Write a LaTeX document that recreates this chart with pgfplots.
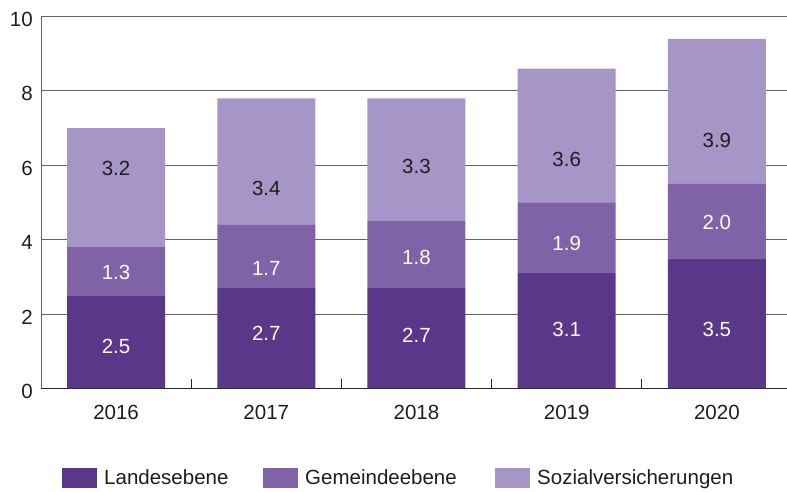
\documentclass[border=0pt]{standalone}
\usepackage{pgfplots}
\pgfplotsset{compat=1.18}
\usepackage{fontspec}
\setmainfont{Liberation Sans}
\definecolor{cA}{RGB}{91,55,138}
\definecolor{cB}{RGB}{128,98,166}
\definecolor{cC}{RGB}{166,149,199}
\definecolor{gridc}{RGB}{100,100,100}
\definecolor{axc}{RGB}{40,40,40}
\definecolor{txt}{RGB}{30,30,30}
\begin{document}
\fontsize{20.5}{24}\selectfont
\begin{tikzpicture}
\useasboundingbox (0pt,0pt) rectangle (787pt,492pt);
\pgfplotsset{base/.style={at={(41pt,103.5pt)}, anchor=south west, scale only axis,
  width=746pt, height=372pt, xmin=-0.5, xmax=4.467, ymin=0, ymax=10}}
\begin{axis}[base, ybar stacked, bar width=98pt,
  axis x line*=bottom, axis y line*=left,
  x axis line style={axc, line width=1pt, -},
  y axis line style={gridc, line width=1pt, -},
  xtick={0,1,2,3,4}, xticklabels={2016,2017,2018,2019,2020},
  minor xtick={0.5,1.5,2.5,3.5},
  major tick length=0pt, minor tick length=9pt, tick align=inside,
  minor tick style={axc, line width=1pt},
  ytick={0,2,4,6,8,10},
  ymajorgrids, grid style={gridc, line width=1pt},
  tick label style={text=txt},
  /pgf/number format/assume math mode=true,
  xticklabel style={yshift=-10pt},
  yticklabel style={xshift=-1.2pt, yshift=-3pt},
  legend columns=3,
  legend style={at={(0.0282,-0.241)}, anchor=west, draw=none, inner sep=0pt,
    /tikz/every even column/.style={column sep=0pt}, text=txt},
  legend image code/.code={\fill[#1, draw=none] (0pt,-10pt) rectangle (35pt,10pt);},
]
\addplot[fill=cA, draw=none] coordinates {(0,2.5) (1,2.7) (2,2.7) (3,3.1) (4,3.5)};
\addlegendentry{\hspace{5pt}\makebox[157pt][l]{Landesebene}}
\addplot[fill=cB, draw=none] coordinates {(0,1.3) (1,1.7) (2,1.8) (3,1.9) (4,2.0)};
\addlegendentry{\hspace{5pt}\makebox[188pt][l]{Gemeindeebene}}
\addplot[fill=cC, draw=none] coordinates {(0,3.2) (1,3.4) (2,3.3) (3,3.6) (4,3.9)};
\addlegendentry{\hspace{5pt}Sozialversicherungen}
\end{axis}
\begin{axis}[base, hide axis]
\addplot[draw=none, mark=none, nodes near coords, point meta=explicit symbolic,
  nodes near coords style={anchor=center, text=white}]
  coordinates {(0,1.12)[2.5] (1,1.47)[2.7] (2,1.44)[2.7] (3,1.60)[3.1] (4,1.60)[3.5]
               (0,3.11)[1.3] (1,3.22)[1.7] (2,3.53)[1.8] (3,3.89)[1.9] (4,4.46)[2.0]};
\addplot[draw=none, mark=none, nodes near coords, point meta=explicit symbolic,
  nodes near coords style={anchor=center, text=txt}]
  coordinates {(0,5.92)[3.2] (1,5.38)[3.4] (2,5.97)[3.3] (3,6.16)[3.6] (4,6.67)[3.9]};
\end{axis}
\end{tikzpicture}
\end{document}
